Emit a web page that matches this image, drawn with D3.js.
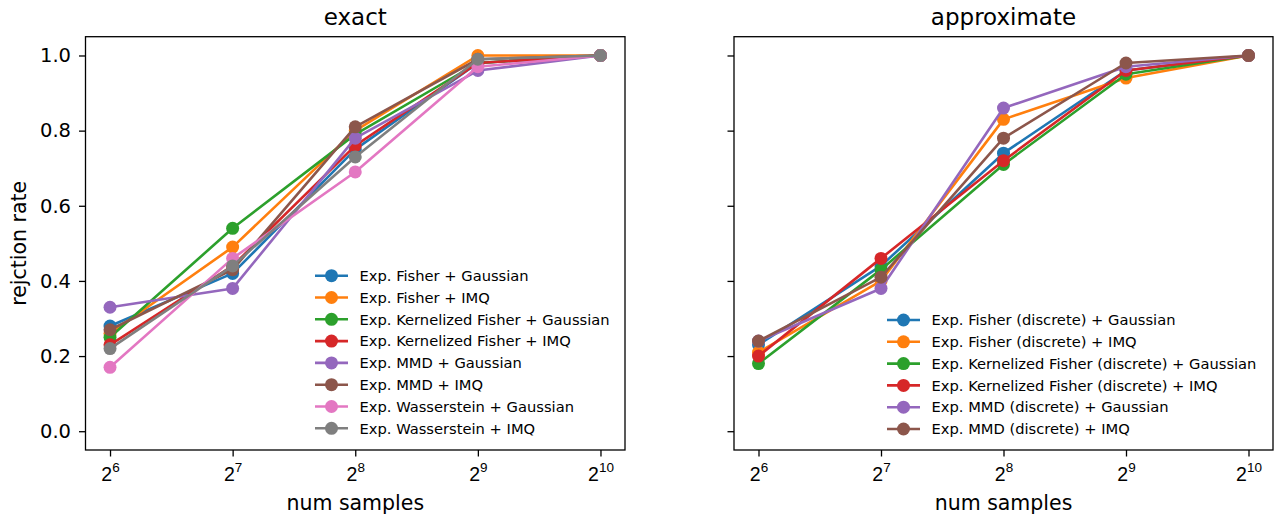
<!DOCTYPE html>
<html>
<head>
<meta charset="utf-8">
<script src="https://cdn.jsdelivr.net/npm/d3@7"></script>
<style>
  body { margin: 0; background: #fff; }
  svg { font-family: "DejaVu Sans", sans-serif; }
  .domain { display: none; }
</style>
</head>
<body>
<div id="chart"></div>
<script>
// Data
const numSamples = [64, 128, 256, 512, 1024];
const exponents = [6, 7, 8, 9, 10];
const yTicks = [0.0, 0.2, 0.4, 0.6, 0.8, 1.0];
const colors = ["#1f77b4", "#ff7f0e", "#2ca02c", "#d62728", "#9467bd", "#8c564b", "#e377c2", "#7f7f7f"];

const exactLabels = [
  "Exp. Fisher + Gaussian",
  "Exp. Fisher + IMQ",
  "Exp. Kernelized Fisher + Gaussian",
  "Exp. Kernelized Fisher + IMQ",
  "Exp. MMD + Gaussian",
  "Exp. MMD + IMQ",
  "Exp. Wasserstein + Gaussian",
  "Exp. Wasserstein + IMQ"
];
const exactValues = [
  [0.28, 0.42, 0.75, 0.98, 1.0],
  [0.26, 0.49, 0.80, 1.00, 1.0],
  [0.25, 0.54, 0.79, 0.98, 1.0],
  [0.23, 0.44, 0.76, 0.98, 1.0],
  [0.33, 0.38, 0.78, 0.96, 1.0],
  [0.27, 0.43, 0.81, 0.99, 1.0],
  [0.17, 0.46, 0.69, 0.97, 1.0],
  [0.22, 0.44, 0.73, 0.99, 1.0]
];

const approxLabels = [
  "Exp. Fisher (discrete) + Gaussian",
  "Exp. Fisher (discrete) + IMQ",
  "Exp. Kernelized Fisher (discrete) + Gaussian",
  "Exp. Kernelized Fisher (discrete) + IMQ",
  "Exp. MMD (discrete) + Gaussian",
  "Exp. MMD (discrete) + IMQ"
];
const approxValues = [
  [0.23, 0.44, 0.74, 0.96, 1.0],
  [0.21, 0.40, 0.83, 0.94, 1.0],
  [0.18, 0.43, 0.71, 0.95, 1.0],
  [0.20, 0.46, 0.72, 0.96, 1.0],
  [0.24, 0.38, 0.86, 0.97, 1.0],
  [0.24, 0.41, 0.78, 0.98, 1.0]
];

// Dimensions
const width = 1276;
const height = 521;
const plotTop = 36.7, plotBottom = 450;

const svg = d3.select("#chart")
  .append("svg")
    .attr("width", width)
    .attr("height", height);

const yScale = d3.scaleLinear().domain([-0.05, 1.05]).range([plotBottom, plotTop]);

const drawPanel = (x0, x1, title, labels, values, legendX, legendY, showYLabels) => {
  const xScale = d3.scaleLog().base(2)
    .domain([Math.pow(2, 5.8), Math.pow(2, 10.2)])
    .range([x0, x1]);

  const g = svg.append("g");

  // lines + markers, each series drawn on top of the previous
  const line = d3.line()
    .x((d, i) => xScale(numSamples[i]))
    .y(d => yScale(d));

  values.forEach((series, k) => {
    const s = g.append("g");
    s.append("path")
      .attr("d", line(series))
      .attr("fill", "none")
      .attr("stroke", colors[k])
      .attr("stroke-width", 2.6)
      .attr("stroke-linejoin", "round");
    s.selectAll("circle")
      .data(series)
      .join("circle")
        .attr("cx", (d, i) => xScale(numSamples[i]))
        .attr("cy", d => yScale(d))
        .attr("r", 6.5)
        .attr("fill", colors[k]);
  });

  // frame
  g.append("rect")
    .attr("x", x0)
    .attr("y", plotTop)
    .attr("width", x1 - x0)
    .attr("height", plotBottom - plotTop)
    .attr("fill", "none")
    .attr("stroke", "#000")
    .attr("stroke-width", 1.3);

  // x-axis
  const xAxis = d3.axisBottom(xScale)
    .tickValues(numSamples)
    .tickSize(6.5)
    .tickPadding(8)
    .tickFormat(d => "");
  const xg = g.append("g")
    .attr("transform", `translate(0, ${plotBottom})`)
    .call(xAxis);
  xg.selectAll(".tick line").attr("stroke", "#000").attr("stroke-width", 1.3);
  xg.selectAll(".tick text").remove();
  xg.selectAll(".tick").each(function(d, i) {
    const t = d3.select(this).append("text")
      .attr("y", 30.5)
      .attr("fill", "#000")
      .attr("text-anchor", "middle")
      .attr("font-size", "19.5px");
    t.append("tspan").text("2");
    t.append("tspan")
      .attr("dy", -8.5)
      .attr("font-size", "13.5px")
      .text(exponents[i]);
  });

  // y-axis
  const yAxis = d3.axisLeft(yScale)
    .tickValues(yTicks)
    .tickSize(6.5)
    .tickPadding(8)
    .tickFormat(showYLabels ? d3.format(".1f") : () => "");
  const yg = g.append("g")
    .attr("transform", `translate(${x0}, 0)`)
    .call(yAxis);
  yg.selectAll(".tick line").attr("stroke", "#000").attr("stroke-width", 1.3);
  yg.selectAll(".tick text")
    .attr("fill", "#000")
    .attr("font-size", "19.5px")
    .attr("font-family", "DejaVu Sans");

  // title
  g.append("text")
    .attr("x", (x0 + x1) / 2)
    .attr("y", 25)
    .attr("text-anchor", "middle")
    .attr("font-size", "23px")
    .text(title);

  // x label
  g.append("text")
    .attr("x", (x0 + x1) / 2)
    .attr("y", 510)
    .attr("text-anchor", "middle")
    .attr("font-size", "20.5px")
    .text("num samples");

  // legend
  const rowH = 21.8;
  labels.forEach((lab, k) => {
    const ly = legendY + k * rowH;
    g.append("line")
      .attr("x1", legendX)
      .attr("x2", legendX + 33)
      .attr("y1", ly)
      .attr("y2", ly)
      .attr("stroke", colors[k])
      .attr("stroke-width", 2.6);
    g.append("circle")
      .attr("cx", legendX + 16.5)
      .attr("cy", ly)
      .attr("r", 6.5)
      .attr("fill", colors[k]);
    g.append("text")
      .attr("x", legendX + 44.5)
      .attr("y", ly)
      .attr("dy", "0.36em")
      .attr("font-size", "14.7px")
      .text(lab);
  });
};

drawPanel(85.5, 625, "exact", exactLabels, exactValues, 315, 275.7, true);
drawPanel(734, 1273, "approximate", approxLabels, approxValues, 887, 320, false);

// shared y label
svg.append("text")
  .attr("transform", `translate(26, ${(plotTop + plotBottom) / 2}) rotate(-90)`)
  .attr("text-anchor", "middle")
  .attr("font-size", "20.5px")
  .text("rejction rate");
</script>
</body>
</html>
